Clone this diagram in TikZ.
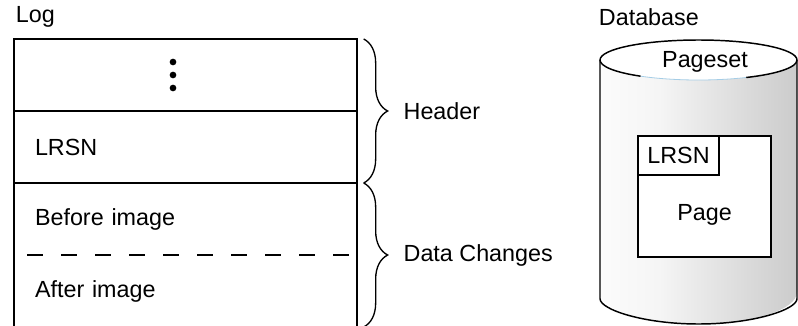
\documentclass[tikz,border=0pt]{standalone}
\usepackage{fontspec}
\setmainfont{Liberation Sans}
\usetikzlibrary{positioning, decorations.pathreplacing}
\definecolor{rimblue}{RGB}{165,205,230}
\pgfdeclarehorizontalshading{cylshade}{100bp}{color(0bp)=(gray!35); color(18bp)=(white); color(40bp)=(gray!8); color(80bp)=(gray!45); color(100bp)=(gray!22)}

\begin{document}
\begin{tikzpicture}[
    x=0.75pt, y=-0.75pt,
    txt/.style={font=\fontsize{17.5}{20}\selectfont, inner sep=2pt},
    row/.style={rectangle, minimum width=257.25pt, minimum height=54pt, text width=225.75pt, align=left, inner xsep=15.75pt, inner ysep=0pt, outer sep=0pt, font=\fontsize{17.5}{20}\selectfont},
    frame/.style={line width=1.3pt},
    divider/.style={line width=1pt, dash pattern=on 12pt off 13.5pt},
    curly/.style={decorate, decoration={brace, amplitude=18pt}, line width=1pt},
    box/.style={rectangle, draw, line width=0.9pt, inner sep=0pt, outer sep=0pt}
]

\clip (0,0) rectangle (798,325);

% Log record
\node[txt, anchor=west] (logname) at (13,17) {Log};
\node[row] (row1) at (185.5,75) {};
\node[row, below=0pt of row1] (row2) {LRSN};
\node[row, below=0pt of row2] (row3) {Before image};
\node[row, below=0pt of row3] (row4) {After image};

\draw[frame] (row4.south west) -- (row1.north west) -- (row1.north east) -- (row4.south east);
\draw[frame] (row1.south west) -- (row1.south east);
\draw[frame] (row2.south west) -- (row2.south east);
\draw[divider] ([xshift=9.75pt]row3.south west) -- ([xshift=-1.5pt]row3.south east);

% vertical dots
\foreach \y in {62,75,88}
    \fill (173,\y) circle (2.5pt);

% Braces
\draw[curly] ([xshift=5pt]row1.north east) -- ([xshift=5pt]row2.south east)
    node[txt, midway, anchor=west, xshift=27.5pt] (hdr) {Header};
\draw[curly] ([xshift=5pt]row3.north east) -- ([xshift=5pt]row4.south east)
    node[txt, pos=0.5, anchor=west, xshift=27.5pt] (chg) {Data Changes};

% Database cylinder
\node[txt, anchor=west] (dbname) at (596,17) {Database};
\path[shading=cylshade] (600,60) -- (600,292) arc[start angle=180, end angle=0, x radius=98.5, y radius=32] -- (797,60) -- cycle;
\draw[line width=1.1pt, rounded corners=5pt] (600,60) -- (600,292) arc[start angle=180, end angle=0, x radius=98.5, y radius=32] -- (797,60);
\fill[white] (698.5,60) ellipse [x radius=98.5, y radius=20];
\draw[line width=1.1pt] (600,60) arc[start angle=180, end angle=360, x radius=98.5, y radius=20];
\draw[line width=1.1pt] (600,60) arc[start angle=180, end angle=126, x radius=98.5, y radius=20];
\draw[rimblue, line width=0.6pt] (698.5,60) ++(126:98.5 and 20) arc[start angle=126, end angle=61, x radius=98.5, y radius=20];
\draw[line width=1.1pt] (797,60) arc[start angle=0, end angle=61, x radius=98.5, y radius=20];
\node[txt] (pset) at (705,62) {Pageset};

% Page with its LRSN
\node[box, fill=white, minimum width=99.75pt, minimum height=90.75pt] (page) at (704.5,196.5) {};
\node[box, anchor=north west, minimum width=60.75pt, minimum height=29.25pt, txt] (plrsn) at (page.north west) {LRSN};
\node[txt] (pagetxt) at ([yshift=-14pt]page.center) {Page};

\end{tikzpicture}
\end{document}
